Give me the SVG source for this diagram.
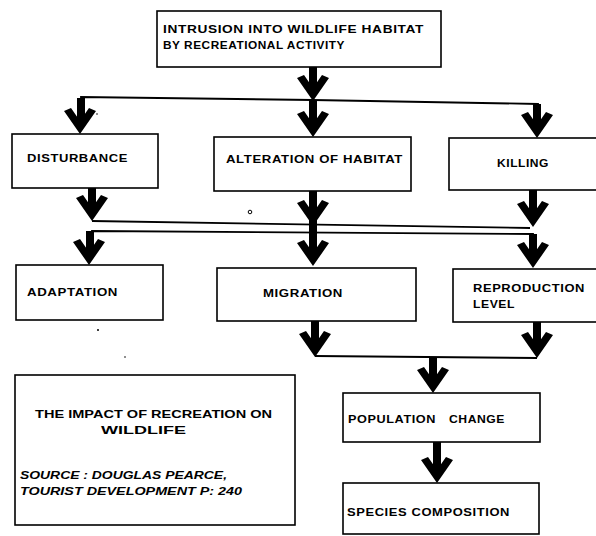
<svg xmlns="http://www.w3.org/2000/svg" xmlns:xlink="http://www.w3.org/1999/xlink" width="596" height="536" viewBox="0 0 596 536">
<style>
.box{fill:#fff;stroke:#000;stroke-width:1.6}
.t{font-family:"Liberation Sans",Arial,sans-serif;font-size:11px;font-weight:bold;fill:#000;letter-spacing:0.5px}
.h{font-family:"Liberation Sans",Arial,sans-serif;font-size:10.5px;font-weight:900;fill:#000}
.s{font-family:"Liberation Sans",Arial,sans-serif;font-size:11px;font-weight:bold;font-style:italic;fill:#000}
.shaft{stroke:#000;stroke-width:8;fill:none}
.ln{stroke:#000;stroke-width:1.8;fill:none}
</style>
<defs>
<path id="head" d="M-16,-23 L-9,-26 L0,-13 L9,-26 L16,-23 L0,0 Z" fill="#000"/>
</defs>
<rect width="596" height="536" fill="#fff"/>

<g id="connectors">
<!-- top to row 1 -->
<line class="shaft" x1="313" y1="67" x2="313" y2="92"/>
<use xlink:href="#head" x="313" y="101"/>
<polyline class="ln" points="81,108 81,97 313,100 538,104 538,110"/>
<line class="shaft" x1="81" y1="98" x2="81" y2="124"/>
<use xlink:href="#head" x="80" y="134"/>
<line class="shaft" x1="313" y1="100" x2="313" y2="128"/>
<use xlink:href="#head" x="313" y="137"/>
<line class="shaft" x1="537" y1="104" x2="537" y2="128"/>
<use xlink:href="#head" x="537" y="138"/>
<!-- row 1 to row 2 -->
<line class="shaft" x1="92" y1="188" x2="92" y2="212"/>
<use xlink:href="#head" x="92" y="221"/>
<line class="shaft" x1="313" y1="191" x2="313" y2="256"/>
<use xlink:href="#head" x="313" y="226"/>
<line class="shaft" x1="533" y1="190" x2="533" y2="218"/>
<use xlink:href="#head" x="533" y="227"/>
<line class="ln" x1="92" y1="221" x2="530" y2="228"/>
<polyline class="ln" points="92,240 92,231 533,234 533,240"/>
<line class="shaft" x1="90" y1="231" x2="90" y2="256"/>
<use xlink:href="#head" x="89" y="265"/>
<use xlink:href="#head" x="313" y="266"/>
<line class="shaft" x1="533" y1="234" x2="533" y2="259"/>
<use xlink:href="#head" x="533" y="268"/>
<!-- row 2 to population -->
<line class="shaft" x1="315" y1="321" x2="315" y2="347"/>
<use xlink:href="#head" x="315" y="357"/>
<line class="shaft" x1="537" y1="322" x2="537" y2="348"/>
<use xlink:href="#head" x="537" y="358"/>
<line class="ln" x1="315" y1="356" x2="537" y2="358"/>
<line class="shaft" x1="433" y1="357" x2="433" y2="383"/>
<use xlink:href="#head" x="433" y="393"/>
<line class="shaft" x1="437" y1="442" x2="437" y2="474"/>
<use xlink:href="#head" x="437" y="483"/>
</g>

<g id="n-intrusion">
<rect class="box" x="157" y="11" width="284" height="56"/>
<text class="t" x="163" y="33" textLength="261" lengthAdjust="spacingAndGlyphs">INTRUSION INTO WILDLIFE HABITAT</text>
<text class="t" x="163" y="49" textLength="182" lengthAdjust="spacingAndGlyphs">BY RECREATIONAL ACTIVITY</text>
</g>
<g id="n-disturbance">
<rect class="box" x="12" y="134" width="146" height="54"/>
<text class="t" x="27" y="162" textLength="101" lengthAdjust="spacingAndGlyphs">DISTURBANCE</text>
</g>
<g id="n-alteration">
<rect class="box" x="214" y="137" width="197" height="54"/>
<text class="t" x="226" y="163" textLength="177" lengthAdjust="spacingAndGlyphs">ALTERATION OF HABITAT</text>
</g>
<g id="n-killing">
<rect class="box" x="449" y="138" width="160" height="52"/>
<text class="t" x="497" y="167" textLength="52" lengthAdjust="spacingAndGlyphs">KILLING</text>
</g>
<g id="n-adaptation">
<rect class="box" x="16" y="265" width="147" height="55"/>
<text class="t" x="27" y="296" textLength="91" lengthAdjust="spacingAndGlyphs">ADAPTATION</text>
</g>
<g id="n-migration">
<rect class="box" x="217" y="268" width="199" height="53"/>
<text class="t" x="263" y="297" textLength="80" lengthAdjust="spacingAndGlyphs">MIGRATION</text>
</g>
<g id="n-reproduction">
<rect class="box" x="453" y="269" width="160" height="53"/>
<text class="t" x="473" y="292" textLength="112" lengthAdjust="spacingAndGlyphs">REPRODUCTION</text>
<text class="t" x="473" y="308" textLength="42" lengthAdjust="spacingAndGlyphs">LEVEL</text>
</g>
<g id="n-population">
<rect class="box" x="343" y="393" width="197" height="49"/>
<text class="t" x="348" y="423" textLength="88" lengthAdjust="spacingAndGlyphs">POPULATION</text>
<text class="t" x="449" y="423" textLength="56" lengthAdjust="spacingAndGlyphs">CHANGE</text>
</g>
<g id="n-species">
<rect class="box" x="343" y="483" width="196" height="51"/>
<text class="t" x="347" y="516" textLength="163" lengthAdjust="spacingAndGlyphs">SPECIES COMPOSITION</text>
</g>
<g id="n-legend">
<rect class="box" x="15" y="375" width="280" height="150"/>
<text class="h" x="35" y="418" textLength="237" lengthAdjust="spacingAndGlyphs">THE IMPACT OF RECREATION ON</text>
<text class="h" x="101" y="434" textLength="85" lengthAdjust="spacingAndGlyphs">WILDLIFE</text>
<text class="s" x="20" y="479" textLength="207" lengthAdjust="spacingAndGlyphs">SOURCE : DOUGLAS PEARCE,</text>
<text class="s" x="20" y="495" textLength="222" lengthAdjust="spacingAndGlyphs">TOURIST DEVELOPMENT P: 240</text>
</g>

<g id="specks">
<circle cx="250" cy="212" r="1.8" fill="none" stroke="#000" stroke-width="1"/>
<circle cx="98" cy="330" r="1" fill="#000"/>
<circle cx="125" cy="357" r="0.8" fill="#000"/>
<circle cx="97" cy="114" r="0.8" fill="#000"/>
</g>
</svg>
